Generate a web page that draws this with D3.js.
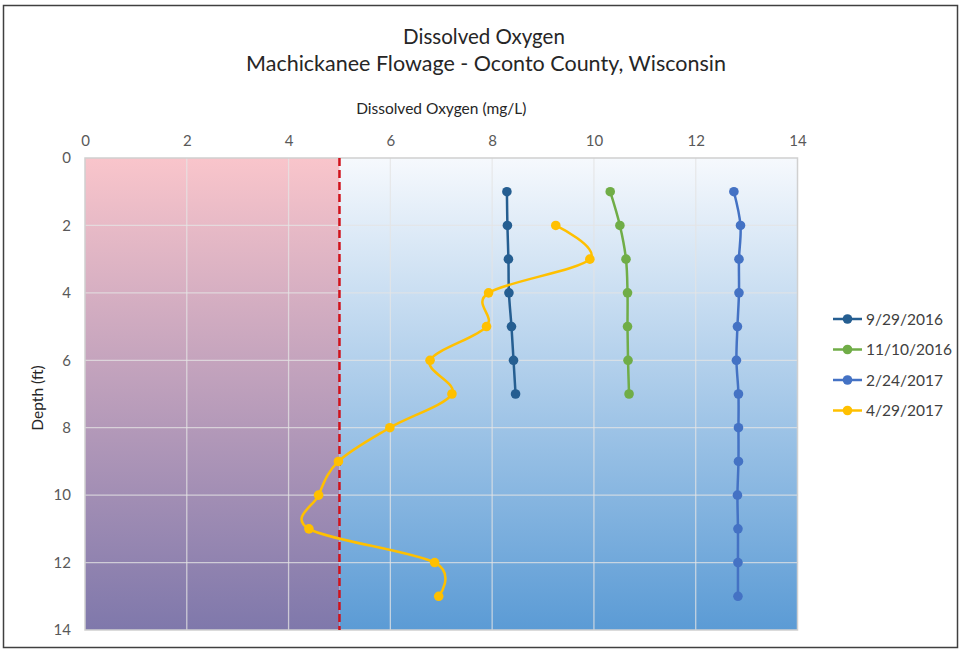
<!DOCTYPE html>
<html>
<head>
<meta charset="utf-8">
<script src="https://cdnjs.cloudflare.com/ajax/libs/d3/7.8.5/d3.min.js"></script>
<style>
  body { margin: 0; background: #fff; }
  svg { display: block; font-family: Lato, "Open Sans", sans-serif; }
</style>
</head>
<body>
<svg id="chart" width="959" height="650"></svg>
<script>
// Data
let series = ["9/29/2016", "11/10/2016", "2/24/2017", "4/29/2017"]
let colors = ["#255E91", "#70AD47", "#4472C4", "#FFC000"]
let depthSep = [1, 2, 3, 4, 5, 6, 7]
let doSep = [8.29, 8.30, 8.32, 8.33, 8.38, 8.42, 8.46]
let depthNov = [1, 2, 3, 4, 5, 6, 7]
let doNov = [10.32, 10.51, 10.63, 10.66, 10.66, 10.67, 10.69]
let depthFeb = [1, 2, 3, 4, 5, 6, 7, 8, 9, 10, 11, 12, 13]
let doFeb = [12.75, 12.88, 12.85, 12.85, 12.82, 12.80, 12.84, 12.84, 12.84, 12.82, 12.83, 12.83, 12.83]
let depthApr = [2, 3, 4, 5, 6, 7, 8, 9, 10, 11, 12, 13]
let doApr = [9.25, 9.92, 7.93, 7.89, 6.78, 7.21, 5.99, 4.98, 4.59, 4.40, 6.87, 6.95]
let xTicks = [0, 2, 4, 6, 8, 10, 12, 14]
let yTicks = [0, 2, 4, 6, 8, 10, 12, 14]
let threshold = 5

let depths = [depthSep, depthNov, depthFeb, depthApr]
let values = [doSep, doNov, doFeb, doApr]

// Layout
let svg = d3.select("#chart")
let x = d3.scaleLinear().domain([0, 14]).range([85, 797.5])
let y = d3.scaleLinear().domain([0, 14]).range([158, 630])

svg.append("rect")
  .attr("x", 3.5).attr("y", 5.5).attr("width", 954).attr("height", 642)
  .attr("fill", "#fff").attr("stroke", "#404040").attr("stroke-width", 1.5)

// Gradients
let defs = svg.append("defs")
let gBlue = defs.append("linearGradient").attr("id", "gBlue")
  .attr("x1", 0).attr("y1", 0).attr("x2", 0).attr("y2", 1)
gBlue.append("stop").attr("offset", "0%").attr("stop-color", "#F6F9FD")
gBlue.append("stop").attr("offset", "100%").attr("stop-color", "#5B9BD5")
let gPink = defs.append("linearGradient").attr("id", "gPink")
  .attr("x1", 0).attr("y1", 0).attr("x2", 0).attr("y2", 1)
gPink.append("stop").attr("offset", "0%").attr("stop-color", "#F9C5CB")
gPink.append("stop").attr("offset", "100%").attr("stop-color", "#7F78AB")

svg.append("rect")
  .attr("x", x(threshold)).attr("y", y(0))
  .attr("width", x(14) - x(threshold)).attr("height", y(14) - y(0))
  .attr("fill", "url(#gBlue)")
svg.append("rect")
  .attr("x", x(0)).attr("y", y(0))
  .attr("width", x(threshold) - x(0)).attr("height", y(14) - y(0))
  .attr("fill", "url(#gPink)")

// Gridlines
let grid = svg.append("g").attr("stroke", "#E4E4E4").attr("stroke-opacity", 0.75).attr("stroke-width", 1.3)
grid.selectAll(".gx").data(xTicks.slice(1, -1)).join("line")
  .attr("x1", d => x(d)).attr("x2", d => x(d)).attr("y1", y(0)).attr("y2", y(14))
grid.selectAll(".gy").data(yTicks.slice(1, -1)).join("line")
  .attr("x1", x(0)).attr("x2", x(14)).attr("y1", d => y(d)).attr("y2", d => y(d))
svg.append("rect")
  .attr("x", x(0)).attr("y", y(0)).attr("width", x(14) - x(0)).attr("height", y(14) - y(0))
  .attr("fill", "none").attr("stroke", "#D0D0D0").attr("stroke-width", 1.5)

// Threshold line
svg.append("line")
  .attr("x1", x(threshold)).attr("x2", x(threshold)).attr("y1", y(0)).attr("y2", y(14))
  .attr("stroke", "#D0121B").attr("stroke-width", 2.5).attr("stroke-dasharray", "8,4")

// Axes
let xAxis = svg.append("g").attr("transform", `translate(0,${y(0) - 12})`)
  .call(d3.axisTop(x).tickValues(xTicks).tickSize(0).tickPadding(0))
let yAxis = svg.append("g").attr("transform", `translate(${x(0) - 14},0)`)
  .call(d3.axisLeft(y).tickValues(yTicks).tickSize(0).tickPadding(0))
xAxis.select(".domain").remove()
yAxis.select(".domain").remove()
svg.selectAll(".tick text").attr("fill", "#595959").attr("font-size", 15)
  .attr("font-family", "Lato, sans-serif")

// Series
let line = d3.line()
  .x(d => x(d.v))
  .y(d => y(d.d))
  .curve(d3.curveCardinal.tension(0))

series.forEach((name, i) => {
  let pts = depths[i].map((d, j) => ({d: d, v: values[i][j]}))
  let g = svg.append("g")
  g.append("path").attr("d", line(pts))
    .attr("fill", "none").attr("stroke", colors[i]).attr("stroke-width", 2.5)
  g.selectAll("circle").data(pts).join("circle")
    .attr("cx", d => x(d.v)).attr("cy", d => y(d.d)).attr("r", 4.8)
    .attr("fill", colors[i])
})

// Titles
svg.append("text").attr("x", 484).attr("y", 44).attr("text-anchor", "middle")
  .attr("font-size", 20.5).attr("fill", "#262626").text("Dissolved Oxygen")
svg.append("text").attr("x", 486).attr("y", 71).attr("text-anchor", "middle")
  .attr("font-size", 21.5).attr("fill", "#262626").text("Machickanee Flowage - Oconto County, Wisconsin")
svg.append("text").attr("x", (x(0) + x(14)) / 2).attr("y", 114).attr("text-anchor", "middle")
  .attr("font-size", 15.5).attr("fill", "#262626").text("Dissolved Oxygen (mg/L)")
svg.append("text")
  .attr("transform", `translate(43,${(y(0) + y(14)) / 2 + 4}) rotate(-90)`)
  .attr("text-anchor", "middle").attr("font-size", 15.5).attr("fill", "#262626").text("Depth (ft)")

// Legend
let legend = svg.append("g").attr("transform", "translate(833,319)")
series.forEach((name, i) => {
  let row = legend.append("g").attr("transform", `translate(0,${i * 30.5})`)
  row.append("line").attr("x1", 0).attr("x2", 29).attr("stroke", colors[i]).attr("stroke-width", 2.5)
  row.append("circle").attr("cx", 14.5).attr("r", 4.8).attr("fill", colors[i])
  row.append("text").attr("x", 33).attr("y", 5.5).attr("font-size", 15.5)
    .attr("fill", "#404040").text(name)
})
</script>
</body>
</html>
